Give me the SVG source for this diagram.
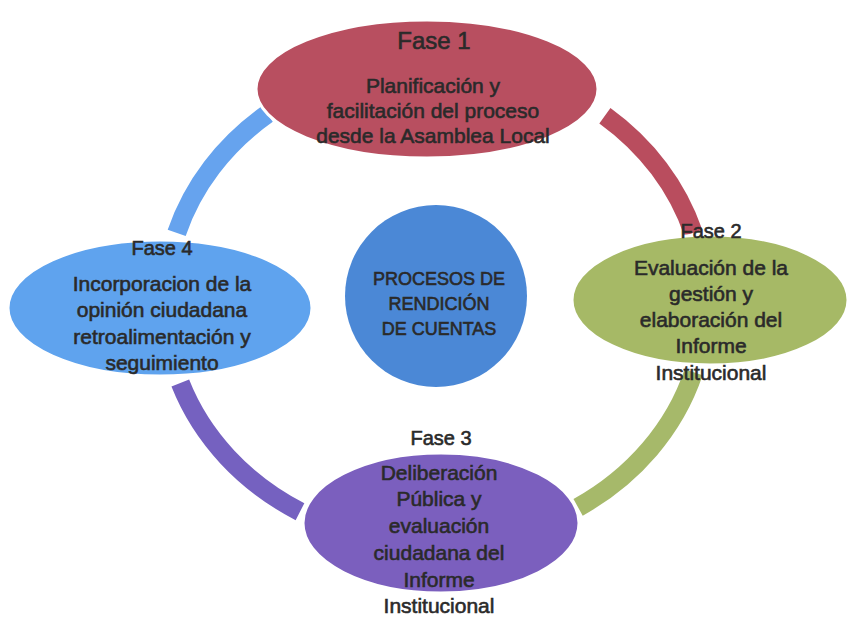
<svg xmlns="http://www.w3.org/2000/svg" width="852" height="630" viewBox="0 0 852 630">
<style>
  .ring { fill: none; stroke-width: 19; stroke-linecap: butt; }
  .node { stroke: #ffffff; stroke-width: 3; }
  text { font-family: "Liberation Sans", Arial, sans-serif; fill: #2a2a2a; stroke: #2a2a2a; stroke-width: 0.6; text-anchor: middle; }
  .body { font-size: 21px; }
  .lbl { font-size: 20px; }
  .ctr { font-size: 18px; }
</style>
<rect width="852" height="630" fill="#ffffff"/>
<g id="connectors">
  <path class="ring" stroke="#66a3ee" d="M 176.7 232.9 A 270 241 0 0 1 267.3 114.1"/>
  <path class="ring" stroke="#b94d5e" d="M 604.9 115.7 A 270 241 0 0 1 693.3 232.9"/>
  <path class="ring" stroke="#a6b96a" d="M 693.6 372.3 A 270 241 0 0 1 578.1 507.4"/>
  <path class="ring" stroke="#7561c0" d="M 300 511.7 A 270 241 0 0 1 180.3 383.1"/>
</g>
<g id="fase1">
  <ellipse class="node" cx="427" cy="89" rx="171" ry="69" fill="#b84f60"/>
  <text x="434" y="49" style="font-size:24px">Fase 1</text>
  <text class="body" x="433" y="93">Planificación y</text>
  <text class="body" x="433" y="118">facilitación del proceso</text>
  <text class="body" x="433" y="143">desde la Asamblea Local</text>
</g>
<g id="fase2">
  <ellipse class="node" cx="710" cy="300" rx="138" ry="65" fill="#a6b966"/>
  <text class="lbl" x="711" y="238">Fase 2</text>
  <text class="body" x="711" y="275">Evaluación de la</text>
  <text class="body" x="711" y="301">gestión y</text>
  <text class="body" x="711" y="327">elaboración del</text>
  <text class="body" x="711" y="353">Informe</text>
  <text class="body" x="711" y="380">Institucional</text>
</g>
<g id="fase3">
  <ellipse class="node" cx="441" cy="523" rx="138" ry="70" fill="#7b5fbe"/>
  <text class="lbl" x="441" y="445">Fase 3</text>
  <text class="body" x="439" y="480">Deliberación</text>
  <text class="body" x="439" y="506">Pública y</text>
  <text class="body" x="439" y="533">evaluación</text>
  <text class="body" x="439" y="560">ciudadana del</text>
  <text class="body" x="439" y="587">Informe</text>
  <text class="body" x="439" y="613">Institucional</text>
</g>
<g id="fase4">
  <ellipse class="node" cx="160" cy="308" rx="152" ry="68" fill="#5fa3ee"/>
  <text class="lbl" x="162" y="255">Fase 4</text>
  <text class="body" x="162" y="291">Incorporacion de la</text>
  <text class="body" x="162" y="317">opinión ciudadana</text>
  <text class="body" x="162" y="344">retroalimentación y</text>
  <text class="body" x="162" y="370">seguimiento</text>
</g>
<g id="centro">
  <circle cx="436" cy="296" r="91" fill="#4b88d6"/>
  <text class="ctr" x="439" y="285">PROCESOS DE</text>
  <text class="ctr" x="439" y="310">RENDICIÓN</text>
  <text class="ctr" x="439" y="335">DE CUENTAS</text>
</g>
</svg>
